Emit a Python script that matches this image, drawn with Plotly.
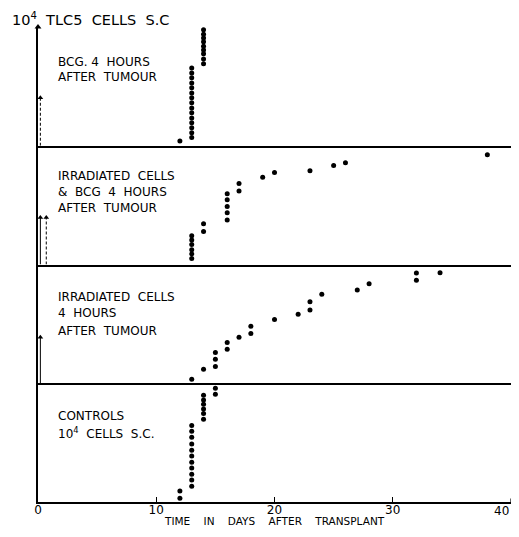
import plotly.graph_objects as go
from plotly.subplots import make_subplots

# ---- data (days after transplant, stacked rank of each mouse) ----
bcg_days = [12] + [13] * 15 + [14] * 9
bcg_vals = [1.0, 1.7, 2.7, 3.75, 4.8, 5.8, 6.9, 7.9, 9.0, 10.0, 11.0, 12.1, 13.1, 14.2, 15.2, 16.25,
            17.1, 18.1, 19.2, 20.0, 20.8, 21.7, 22.5, 23.3, 24.2]

irr_bcg_days = [13] * 6 + [14] * 2 + [16] * 5 + [17] * 2 + [19, 20, 23, 25, 26, 38]
irr_bcg_vals = [1.25, 2.2, 3.1, 4.2, 5.1, 6.0, 6.9, 8.5, 9.3, 10.8, 12.1, 13.5, 14.8,
                15.35, 16.9, 18.2, 19.2, 19.6, 20.7, 21.25, 22.9]

irr_days = [13, 14, 15, 15, 15, 16, 16, 17, 18, 18, 20, 22, 23, 23, 24, 27, 28, 32, 32, 34]
irr_vals = [0.83, 2.9, 3.5, 5.0, 6.4, 7.1, 8.5, 9.6, 10.4, 11.9, 13.3, 14.4, 15.3, 17.0,
            18.6, 19.5, 20.8, 21.5, 23.0, 23.1]

ctrl_days = [12, 12] + [13] * 11 + [14] * 6 + [15] * 2
ctrl_vals = [0.8, 2.3, 3.3, 4.6, 5.8, 7.1, 8.3, 9.6, 10.8, 12.1, 13.5, 14.8, 16.0,
             17.3, 18.5, 19.4, 20.4, 21.3, 22.3, 22.5, 23.75]

# injection arrows per panel: (day, height, dashed)
inj_arrows = [
    [(0.2, 10.0, True)],
    [(0.2, 9.8, False), (0.7, 9.8, True)],
    [(0.2, 9.6, False)],
    [],
]

panel_labels = [
    ["BCG. 4  HOURS", "AFTER  TUMOUR"],
    ["IRRADIATED  CELLS", "&  BCG  4  HOURS", "AFTER  TUMOUR"],
    ["IRRADIATED  CELLS", "4  HOURS", "AFTER  TUMOUR"],
    ["CONTROLS", "10<sup>4</sup>  CELLS  S.C."],
]
label_y = [[17.4, 14.4], [18.5, 15.1, 11.7], [18.0, 14.6, 11.0], [17.9, 14.4]]

x_ticks = [0, 10, 20, 30, 40]
x_title = "TIME    IN    DAYS    AFTER    TRANSPLANT"
y_title = "10<sup>4</sup>  TLC5  CELLS  S.C"

YMAX = 24.8
FONT = "DejaVu Sans"

series = [(bcg_days, bcg_vals), (irr_bcg_days, irr_bcg_vals),
          (irr_days, irr_vals), (ctrl_days, ctrl_vals)]

fig = make_subplots(rows=4, cols=1, shared_xaxes=True, vertical_spacing=0)

for i, (d, v) in enumerate(series):
    r = i + 1
    fig.add_trace(go.Scatter(x=d, y=v, mode="markers",
                             marker=dict(size=5, color="black"),
                             showlegend=False, hoverinfo="skip"), row=r, col=1)
    for (ax_, h, dashed) in inj_arrows[i]:
        fig.add_trace(go.Scatter(x=[ax_, ax_], y=[0, h], mode="lines",
                                 line=dict(color="black", width=1,
                                           dash="3px,2px" if dashed else "solid"),
                                 showlegend=False, hoverinfo="skip"), row=r, col=1)
        fig.add_trace(go.Scatter(x=[ax_], y=[h], mode="markers",
                                 marker=dict(symbol="triangle-up", size=5, color="black"),
                                 cliponaxis=False, showlegend=False, hoverinfo="skip"),
                      row=r, col=1)
    for txt, yy in zip(panel_labels[i], label_y[i]):
        fig.add_annotation(x=1.55, y=yy, text=txt, showarrow=False, xanchor="left",
                           yanchor="middle", font=dict(family=FONT, size=12, color="black"),
                           row=r, col=1)

# arrowhead at top of the y axis
fig.add_trace(go.Scatter(x=[0], y=[YMAX], mode="markers",
                         marker=dict(symbol="triangle-up", size=6, color="black"),
                         cliponaxis=False, showlegend=False, hoverinfo="skip"), row=1, col=1)

fig.update_yaxes(range=[0, YMAX], showline=True, linecolor="black", linewidth=1.5,
                 showticklabels=False, ticks="", showgrid=False, zeroline=False)
fig.update_xaxes(range=[0, 40], showline=True, linecolor="black", linewidth=1.5,
                 showgrid=False, zeroline=False, ticks="")
# last tick label sits at the figure's right edge, so it is drawn right-anchored below
fig.update_xaxes(row=4, col=1, ticks="inside", ticklen=5, tickwidth=1.2, tickcolor="black",
                 tickvals=x_ticks[:-1], showticklabels=True, ticklabelstandoff=-4,
                 ticktext=[str(t) for t in x_ticks[:-1]],
                 tickfont=dict(family=FONT, size=12, color="black"))
fig.add_annotation(x=x_ticks[-1], y=0, xref="x4", yref="y4", text=str(x_ticks[-1]),
                   showarrow=False, xanchor="right", yanchor="top", yshift=0,
                   font=dict(family=FONT, size=12, color="black"))
# tick mark at the last tick value
fig.add_annotation(x=x_ticks[-1], y=0, xref="x4", yref="y4", ax=0, ay=-5,
                   showarrow=True, arrowhead=0, arrowwidth=1.2, arrowcolor="black", text="")

fig.add_annotation(xref="paper", yref="paper", x=0.5, y=0, xanchor="center", yanchor="bottom",
                   yshift=-26.5, text=x_title, showarrow=False,
                   font=dict(family=FONT, size=10.5, color="black"))

fig.add_annotation(xref="paper", yref="paper", x=0, y=1, xanchor="left", yanchor="top",
                   xshift=-28, yshift=19, text=y_title, showarrow=False,
                   font=dict(family=FONT, size=14.5, color="black"))

# the page body adds an 8px margin on every side; the figure is sized to fit inside it
fig.update_layout(width=503, height=521, margin=dict(l=30, r=0, t=19, b=27),
                  plot_bgcolor="white", paper_bgcolor="white")

fig.write_html("out.html")
